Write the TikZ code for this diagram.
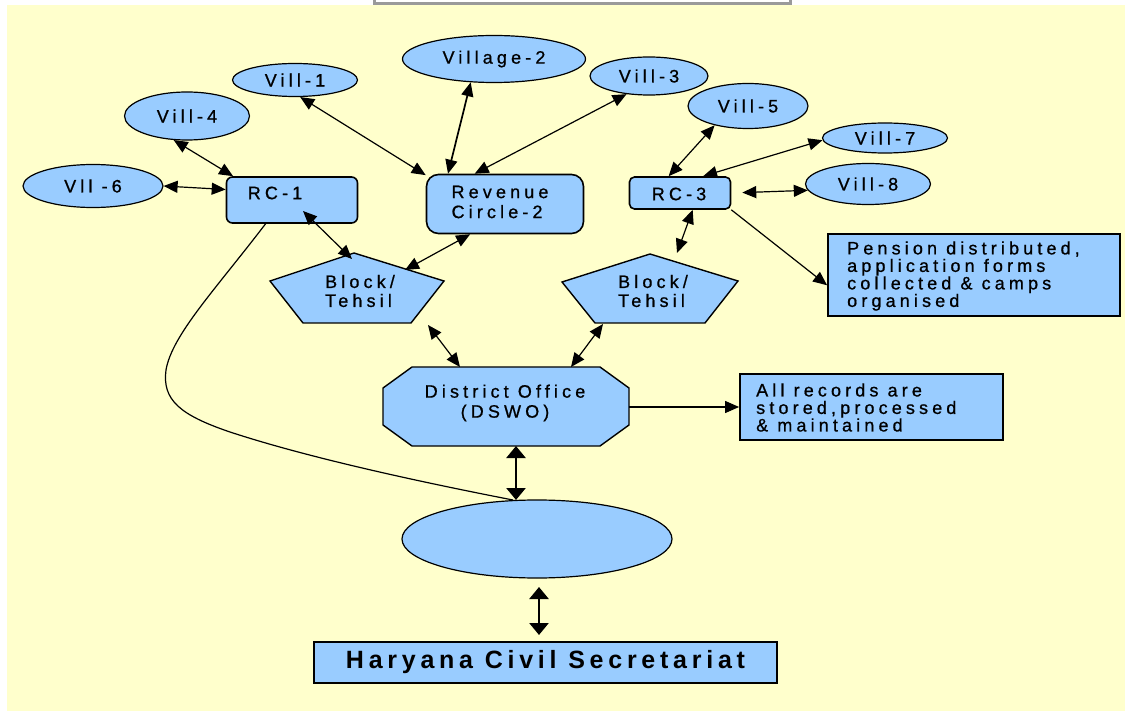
\documentclass[tikz,border=0pt]{standalone}
\usepackage{fontspec}
\setmainfont{Liberation Sans}[LetterSpace=23,FakeBold=0.8]
\newfontfamily\hcsfont{Liberation Sans}[LetterSpace=19]
\usetikzlibrary{shapes.geometric,arrows.meta}
\definecolor{bgy}{HTML}{FFFFCC}
\definecolor{nblue}{HTML}{99CCFF}
\definecolor{barg}{HTML}{9A9A9A}
\begin{document}
\begin{tikzpicture}[x=1pt,y=-1pt,
  >={Triangle[length=14pt,width=12pt]},
  txt/.style={inner sep=0pt,font=\fontsize{18}{17.5}\selectfont},
  vill/.style={ellipse,draw,fill=nblue,line width=1.2pt,inner sep=0pt,font=\fontsize{18}{17.5}\selectfont},
  rbox/.style={rectangle,rounded corners=6pt,draw,fill=nblue,line width=1.6pt,inner sep=0pt},
  sbox/.style={rectangle,draw,fill=nblue,line width=1.8pt,inner sep=0pt},
  shp/.style={draw,fill=nblue,line width=1.4pt,line join=miter},
  conn/.style={line width=1.2pt},
  bigconn/.style={line width=2.6pt,>={Triangle[length=12pt,width=19pt]}}
]
\useasboundingbox (0,0) rectangle (1125,711);
\fill[white] (0,0) rectangle (1125,711);
\fill[bgy] (7,5) rectangle (1125,711);
\draw[barg,line width=3pt] (374.5,0) -- (374.5,4) -- (790.5,4) -- (790.5,0);

% villages
\node[vill,minimum width=140pt,minimum height=43pt] (v6) at (93,186) {Vll -6};
\node[vill,minimum width=125pt,minimum height=48pt] (v4) at (187,116) {Vill-4};
\node[vill,minimum width=125pt,minimum height=33pt] (v1) at (295,80) {Vill-1};
\node[vill,minimum width=183pt,minimum height=47pt] (v2) at (494,59) {Village-2};
\node[vill,minimum width=118pt,minimum height=38pt] (v3) at (649,76) {Vill-3};
\node[vill,minimum width=120pt,minimum height=45pt] (v5) at (748,106) {Vill-5};
\node[vill,minimum width=125pt,minimum height=30pt] (v7) at (885,138) {Vill-7};
\node[vill,minimum width=125pt,minimum height=41pt] (v8) at (868,184) {Vill-8};

% revenue circles
\node[rbox,minimum width=131pt,minimum height=46pt] (rc1) at (292,200) {};
\node[txt] (rc1t) at (275,193) {RC-1};
\node[rbox,rounded corners=12pt,minimum width=157pt,minimum height=59pt] (rev) at (505,204) {};
\node[txt,align=left,font=\fontsize{18}{20}\selectfont] (revt) at (500,202) {Revenue\\Circle-2};
\node[rbox,rounded corners=5pt,minimum width=101pt,minimum height=32pt] (rc3) at (680,193) {};
\node[txt] (rc3t) at (679,194) {RC-3};

% blocks
\draw[shp] (354,253) -- (444,281) -- (411,323) -- (303,323) -- (270,281) -- cycle;
\node[txt,align=left,font=\fontsize{18}{19}\selectfont] (lbt) at (360,291) {Block/\\Tehsil};
\draw[shp] (650,254) -- (738,281) -- (705,323) -- (595,323) -- (562,282) -- cycle;
\node[txt,align=left,font=\fontsize{18}{19}\selectfont] (rbt) at (653,291) {Block/\\Tehsil};

% district office
\draw[shp] (412,367) -- (600,367) -- (629,388) -- (629,425) -- (600,446) -- (412,446) -- (383,425) -- (383,388) -- cycle;
\node[txt,align=center,font=\fontsize{18}{20}\selectfont] (dsot) at (505,403) {District Office\\(DSWO)};

% info boxes
\node[sbox,minimum width=263pt,minimum height=66pt] (rec) at (871.5,407) {};
\node[txt,align=left,anchor=west] (rect) at (756,407.5) {All records are\\stored,processed\\\& maintained};
\node[sbox,minimum width=292pt,minimum height=82pt] (pen) at (974,275) {};
\node[txt,align=left,anchor=west] (pent) at (847,276) {Pension distributed,\\application forms\\collected \& camps\\organised};

% bottom
\node[ellipse,draw,fill=nblue,line width=1.2pt,minimum width=270pt,minimum height=78pt,inner sep=0pt] (bell) at (537,539) {};
\node[sbox,minimum width=463pt,minimum height=41pt,font=\hcsfont\bfseries\fontsize{25}{30}\selectfont] (hcs) at (545.5,662.5) {Haryana Civil Secretariat};

% connector end points
\coordinate (lbTop) at (352,259);
\coordinate (rc1in) at (303,211);
\coordinate (lbR) at (405,270);
\coordinate (lbB) at (428,325);
\coordinate (rbT) at (677,253);
\coordinate (rbB) at (603,324);
\coordinate (dsoTL) at (460,367);
\coordinate (dsoTR) at (571,367);
\coordinate (dsoR) at (629,407);
\coordinate (dsoB) at (516,446);
\coordinate (bellT) at (513,500);
\coordinate (bellA) at (516,500);
\coordinate (bellB) at (539,587);
\coordinate (hcsT) at (539,635);

% connectors
\draw[conn,<->] (v6.east) -- (rc1.171);
\draw[conn,<->] (v4.241) -- (rc1.158);
\draw[conn,<->] (v1.287) -- (rev.160);
\draw[conn,<->,line width=1.7pt] (v2.225) -- (rev.152);
\draw[conn,<->] (v3.219) -- (rev.135);
\draw[conn,<->] (v5.210) -- (rc3.124);
\draw[conn,<->] (v7.182) -- (rc3.36);
\draw[conn,<->,shorten <=11pt] (rc3.east) -- (v8.186);
\draw[conn,->] (rc3.south east) -- (pen.184);
\draw[conn,<->] (rc3.307) -- (rbT);
\draw[conn,<->] (rc1in) -- (lbTop);
\draw[conn,<->] (rev.221) -- (lbR);
\draw[conn,<->] (lbB) -- (dsoTL);
\draw[conn,<->] (rbB) -- (dsoTR);
\draw[conn,->] (dsoR) -- (rec.west);
\draw[bigconn,<->] (dsoB) -- (bellA);
\draw[bigconn,<->] (bellB) -- (hcsT);
\draw[conn] (rc1.222) .. controls (215,290) and (172,335) .. (166,370)
  .. controls (162,400) and (180,415) .. (230,432)
  .. controls (300,455) and (400,478) .. (bellT);
\end{tikzpicture}
\end{document}
